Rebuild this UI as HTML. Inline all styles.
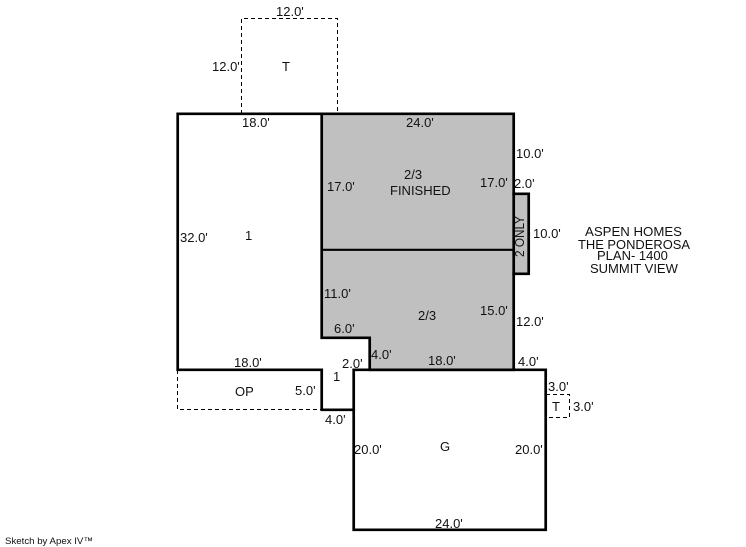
<!DOCTYPE html>
<html>
<head>
<meta charset="utf-8">
<style>
html,body{margin:0;padding:0;background:#fff;width:746px;height:547px;overflow:hidden}
svg{display:block}
text{font-family:"Liberation Sans",Arial,sans-serif;font-size:13px;fill:#111}
</style>
</head>
<body>
<svg width="746" height="547" viewBox="0 0 746 547" xmlns="http://www.w3.org/2000/svg">
<rect width="746" height="547" fill="#fff"/>
<!-- gray fills -->
<path d="M322 114H514V370H370V338H322Z" fill="#c0c0c0"/>
<rect x="514" y="194" width="15" height="80" fill="#c0c0c0"/>
<!-- dashed -->
<g fill="none" stroke="#000" stroke-width="1" stroke-dasharray="4 3" shape-rendering="crispEdges">
<path d="M241.5 114V18.5H337.5V114"/>
<path d="M177.5 370V409.5H322"/>
<path d="M546 394.5H569.5V417.5H546"/>
</g>
<!-- solid -->
<g fill="none" stroke="#000" stroke-width="2.7" stroke-linecap="square" transform="translate(-0.3 -0.2)">
<path d="M322 370H178V114H514V370H370V338H322V114"/>
<path d="M322 250H514" stroke-width="2.2"/>
<path d="M514 194H529V274H514"/>
<path d="M322 370V410H354"/>
<path d="M354 370H546V530H354Z"/>
</g>
<!-- labels -->
<text x="276" y="16">12.0'</text>
<text x="212" y="71">12.0'</text>
<text x="282" y="71">T</text>
<text x="242" y="127">18.0'</text>
<text x="406" y="127">24.0'</text>
<text x="516" y="158">10.0'</text>
<text x="404" y="179">2/3</text>
<text x="390" y="195">FINISHED</text>
<text x="327" y="191">17.0'</text>
<text x="480" y="187">17.0'</text>
<text x="514" y="188">2.0'</text>
<text x="180" y="242">32.0'</text>
<text x="245" y="240">1</text>
<text x="533" y="238">10.0'</text>
<text x="585" y="236" textLength="97" lengthAdjust="spacingAndGlyphs">ASPEN HOMES</text>
<text x="578" y="249" textLength="112" lengthAdjust="spacingAndGlyphs">THE PONDEROSA</text>
<text x="597" y="260">PLAN- 1400</text>
<text x="590" y="273">SUMMIT VIEW</text>
<text transform="translate(524 257) rotate(-90)" textLength="41" lengthAdjust="spacingAndGlyphs">2 ONLY</text>
<text x="324" y="298">11.0'</text>
<text x="418" y="320">2/3</text>
<text x="480" y="315">15.0'</text>
<text x="516" y="326">12.0'</text>
<text x="334" y="333">6.0'</text>
<text x="371" y="359">4.0'</text>
<text x="428" y="365">18.0'</text>
<text x="342" y="368">2.0'</text>
<text x="518" y="366">4.0'</text>
<text x="234" y="367">18.0'</text>
<text x="333" y="381">1</text>
<text x="235" y="396">OP</text>
<text x="295" y="395">5.0'</text>
<text x="548" y="391">3.0'</text>
<text x="552" y="411">T</text>
<text x="573" y="411">3.0'</text>
<text x="325" y="424">4.0'</text>
<text x="354" y="454">20.0'</text>
<text x="440" y="451">G</text>
<text x="515" y="454">20.0'</text>
<text x="435" y="528">24.0'</text>
<text x="5" y="544" style="font-size:9.5px" textLength="88" lengthAdjust="spacingAndGlyphs">Sketch by Apex IV™</text>
</svg>
</body>
</html>
